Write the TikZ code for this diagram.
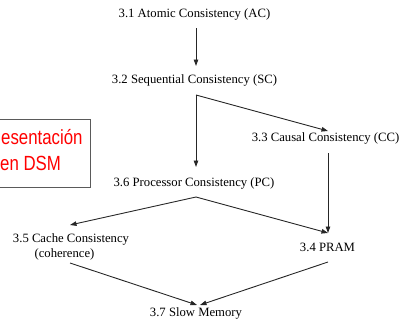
\documentclass[tikz,border=0pt]{standalone}
\usepackage{fontspec}
\setmainfont{Liberation Serif}
\newfontfamily\narrowsans[FakeStretch=0.82]{Liberation Sans}
\usetikzlibrary{arrows.meta}
\definecolor{boxgray}{HTML}{5A5A5A}
\tikzset{
  model/.style={font=\fontsize{12.7}{14.5}\selectfont, inner sep=0pt, align=center},
  link/.style={line width=0.9pt, draw=black!85},
  tip/.style={link, -{Triangle[length=6.5pt,width=4.5pt]}},
  banner/.style={font=\narrowsans\fontsize{20.5}{26}\selectfont, text=red, inner sep=0pt, anchor=base west},
}
\begin{document}
\begin{tikzpicture}[x=1pt, y=-1pt]
  \useasboundingbox (0,0) rectangle (402,322);

  % models of consistency
  \node[model] (AC)   at (194.5,14)  {3.1 Atomic Consistency (AC)};
  \node[model] (SC)   at (194.5,80)  {3.2 Sequential Consistency (SC)};
  \node[model] (CC)   at (325.5,138) {3.3 Causal Consistency (CC)};
  \node[model] (PC)   at (194,183)   {3.6 Processor Consistency (PC)};
  \node[model] (CACHE) at (71,247)   {3.5 Cache Consistency\\(coherence)\hspace*{13pt}};
  \node[model] (PRAM) at (327.5,247) {3.4 PRAM};
  \node[model] (SLOW) at (196,313)   {3.7 Slow Memory};

  % fork points below SC and PC
  \coordinate (scfork) at ([shift={(1.5,15)}]SC.center);
  \coordinate (pcfork) at ([shift={(2,14)}]PC.center);

  % hierarchy
  \draw[tip] ([shift={(1.5,14)}]AC.center) -- ([shift={(1.5,-14)}]SC.center);
  \draw[tip] (scfork) -- ([shift={(2.5,-7)}]CC.center);
  \draw[tip] (scfork) -- ([shift={(2,-16)}]PC.center);
  \draw[tip] ([shift={(2.5,15)}]CC.center) -- ([shift={(0.5,-14)}]PRAM.center);
  \draw[tip] (pcfork) -- ([shift={(-1,-22)}]CACHE.center);
  \draw[tip] (pcfork) -- ([shift={(0.5,-14)}]PRAM.center);
  \draw[tip] ([shift={(-1,16)}]CACHE.center) -- ([shift={(1,-8)}]SLOW.center);
  \draw[tip] ([shift={(0.5,15)}]PRAM.center) -- ([shift={(4,-8)}]SLOW.center);

  % red title box
  \draw[boxgray, line width=0.8pt] (-5,119) rectangle (90.5,187.5);
  \node[banner] (ban1) at (1,144) {esentación};
  \node[banner] (ban2) at (0,170) {en DSM};
\end{tikzpicture}
\end{document}
